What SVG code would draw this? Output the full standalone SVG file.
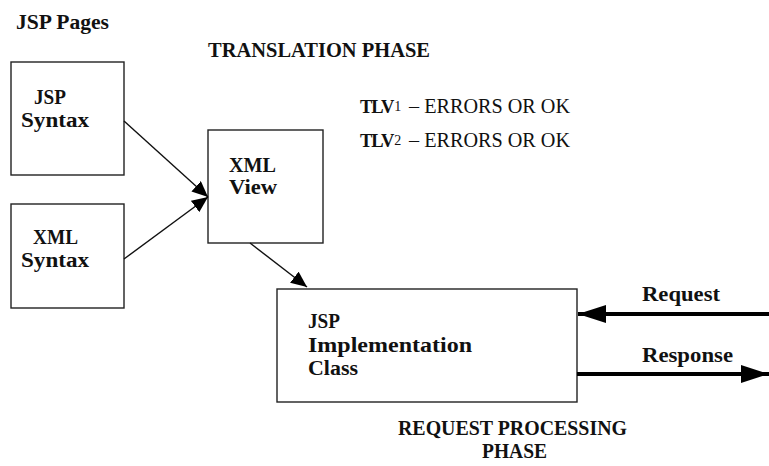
<svg xmlns="http://www.w3.org/2000/svg" width="769" height="466" viewBox="0 0 769 466">
  <style>
    text { font-family: "Liberation Serif", "DejaVu Serif", serif; font-size: 20.5px; fill: #111; }
    .b { font-weight: bold; }
    .r { font-weight: normal; }
    .tlv { font-weight: bold; font-size: 18.5px; letter-spacing: -1px; }
    .sup { font-size: 14px; font-weight: normal; }
    .box { fill: #fff; stroke: #222; stroke-width: 1.4; }
    .thin { stroke: #111; stroke-width: 1.4; fill: none; }
    .thick { stroke: #000; stroke-width: 4; fill: none; }
  </style>
  <defs>
    <marker id="ah" markerUnits="userSpaceOnUse" markerWidth="18" markerHeight="14" refX="16" refY="7" orient="auto">
      <path d="M0,0 L16,7 L0,14 Z" fill="#000"/>
    </marker>
    <marker id="bh" markerUnits="userSpaceOnUse" markerWidth="30" markerHeight="20" refX="28" refY="9" orient="auto">
      <path d="M0,0 L28,9 L0,18 Z" fill="#000"/>
    </marker>
  </defs>

  <g id="labels">
    <text class="b" x="16" y="29" textLength="93" lengthAdjust="spacingAndGlyphs">JSP Pages</text>
    <text class="b" x="208" y="57" textLength="222" lengthAdjust="spacingAndGlyphs">TRANSLATION PHASE</text>
    <text x="360" y="113"><tspan class="tlv">TLV</tspan><tspan class="sup" dx="1" dy="-2">1</tspan><tspan class="r" x="409" y="113" textLength="161" lengthAdjust="spacingAndGlyphs">– ERRORS OR OK</tspan></text>
    <text x="360" y="147"><tspan class="tlv">TLV</tspan><tspan class="sup" dx="1" dy="-2">2</tspan><tspan class="r" x="409" y="147" textLength="161" lengthAdjust="spacingAndGlyphs">– ERRORS OR OK</tspan></text>
    <text class="b" x="398" y="435" textLength="229" lengthAdjust="spacingAndGlyphs">REQUEST PROCESSING</text>
    <text class="b" x="482" y="458" textLength="65" lengthAdjust="spacingAndGlyphs">PHASE</text>
    <text class="b" x="642" y="301" textLength="78" lengthAdjust="spacingAndGlyphs">Request</text>
    <text class="b" x="642" y="362" textLength="91" lengthAdjust="spacingAndGlyphs">Response</text>
  </g>

  <g id="node-jsp-syntax">
    <rect class="box" x="11" y="62" width="113" height="113"/>
    <text class="b" x="34" y="104" textLength="32" lengthAdjust="spacingAndGlyphs">JSP</text>
    <text class="b" x="21" y="127" textLength="68" lengthAdjust="spacingAndGlyphs">Syntax</text>
  </g>

  <g id="node-xml-syntax">
    <rect class="box" x="11" y="204" width="113" height="104"/>
    <text class="b" x="33" y="244" textLength="45" lengthAdjust="spacingAndGlyphs">XML</text>
    <text class="b" x="21" y="267" textLength="68" lengthAdjust="spacingAndGlyphs">Syntax</text>
  </g>

  <g id="node-xml-view">
    <rect class="box" x="208" y="130" width="115" height="113"/>
    <text class="b" x="229" y="172" textLength="47" lengthAdjust="spacingAndGlyphs">XML</text>
    <text class="b" x="229" y="194" textLength="48" lengthAdjust="spacingAndGlyphs">View</text>
  </g>

  <g id="node-jsp-impl">
    <rect class="box" x="277" y="289" width="300" height="113"/>
    <text class="b" x="308" y="328" textLength="32" lengthAdjust="spacingAndGlyphs">JSP</text>
    <text class="b" x="308" y="352" textLength="164" lengthAdjust="spacingAndGlyphs">Implementation</text>
    <text class="b" x="308" y="375" textLength="50" lengthAdjust="spacingAndGlyphs">Class</text>
  </g>

  <g id="connectors">
    <line class="thin" x1="124" y1="121" x2="208" y2="197" marker-end="url(#ah)"/>
    <line class="thin" x1="124" y1="259" x2="208" y2="197" marker-end="url(#ah)"/>
    <line class="thin" x1="250" y1="243" x2="307" y2="287" marker-end="url(#ah)"/>
    <line class="thick" x1="769" y1="314" x2="578" y2="314" marker-end="url(#bh)"/>
    <line class="thick" x1="577" y1="374" x2="769" y2="374" marker-end="url(#bh)"/>
  </g>
</svg>
